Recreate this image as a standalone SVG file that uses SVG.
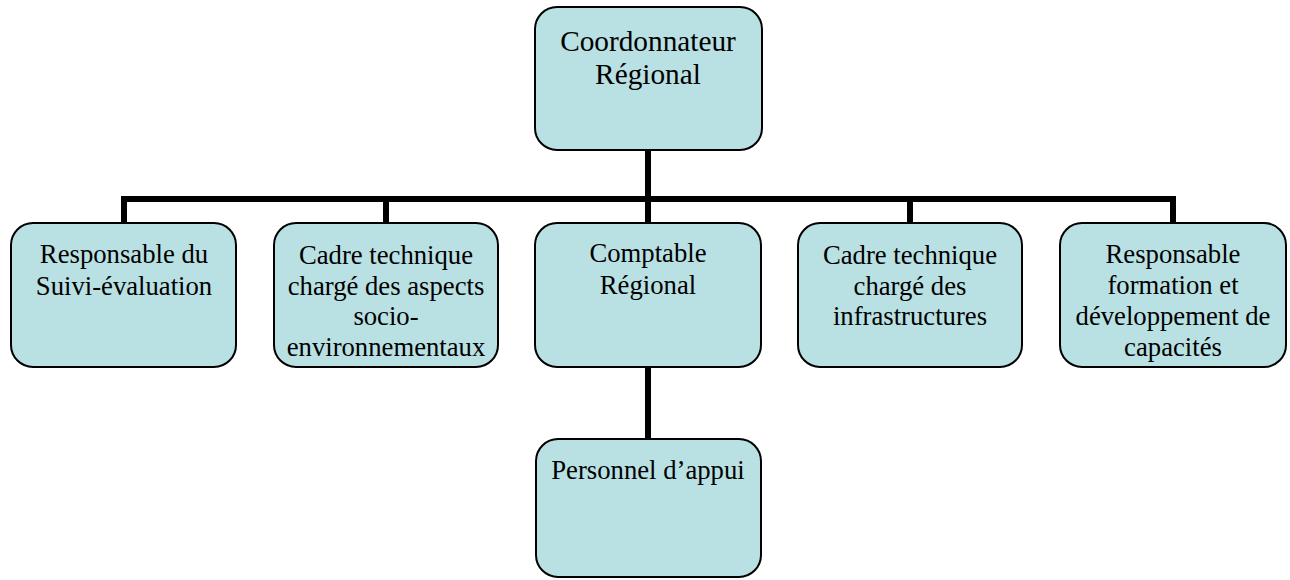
<svg xmlns="http://www.w3.org/2000/svg" width="1290" height="580" viewBox="0 0 1290 580">
<style>
.box{fill:#b9e0e3;stroke:#000;stroke-width:2}
.t{font-family:'Liberation Serif','Times New Roman',serif;font-size:26.7px;fill:#000;text-anchor:middle}
.big{font-size:29.3px}
.c{stroke:#000;stroke-width:6;fill:none}
</style>
<rect width="1290" height="580" fill="#fff"/>
<g id="connectors">
<line class="c" x1="648" y1="150" x2="648" y2="199"/>
<line class="c" x1="121" y1="199" x2="1176" y2="199"/>
<line class="c" x1="124" y1="199" x2="124" y2="223"/>
<line class="c" x1="386" y1="199" x2="386" y2="223"/>
<line class="c" x1="648" y1="199" x2="648" y2="223"/>
<line class="c" x1="910" y1="199" x2="910" y2="223"/>
<line class="c" x1="1173" y1="199" x2="1173" y2="223"/>
<line class="c" x1="648" y1="367" x2="648" y2="439"/>
</g>
<g id="coordonnateur">
<rect class="box" x="535" y="7" width="227" height="143" rx="22"/>
<text class="t big" x="648" y="51">Coordonnateur</text>
<text class="t big" x="648" y="84">Régional</text>
</g>
<g id="suivi">
<rect class="box" x="11" y="223" width="225" height="144" rx="22"/>
<text class="t" x="124" y="263">Responsable du</text>
<text class="t" x="124" y="295">Suivi-évaluation</text>
</g>
<g id="socio">
<rect class="box" x="274" y="223" width="224" height="144" rx="22"/>
<text class="t" x="386" y="264">Cadre technique</text>
<text class="t" x="386" y="295">chargé des aspects</text>
<text class="t" x="386" y="325">socio-</text>
<text class="t" x="386" y="356">environnementaux</text>
</g>
<g id="comptable">
<rect class="box" x="535" y="223" width="226" height="144" rx="22"/>
<text class="t" x="648" y="262">Comptable</text>
<text class="t" x="648" y="294">Régional</text>
</g>
<g id="infra">
<rect class="box" x="798" y="223" width="224" height="144" rx="22"/>
<text class="t" x="910" y="264">Cadre technique</text>
<text class="t" x="910" y="295">chargé des</text>
<text class="t" x="910" y="325">infrastructures</text>
</g>
<g id="formation">
<rect class="box" x="1060" y="223" width="226" height="144" rx="22"/>
<text class="t" x="1173" y="263">Responsable</text>
<text class="t" x="1173" y="294">formation et</text>
<text class="t" x="1173" y="325">développement de</text>
<text class="t" x="1173" y="356">capacités</text>
</g>
<g id="personnel">
<rect class="box" x="536" y="439" width="225" height="138" rx="22"/>
<text class="t" x="648" y="479">Personnel d’appui</text>
</g>
</svg>
